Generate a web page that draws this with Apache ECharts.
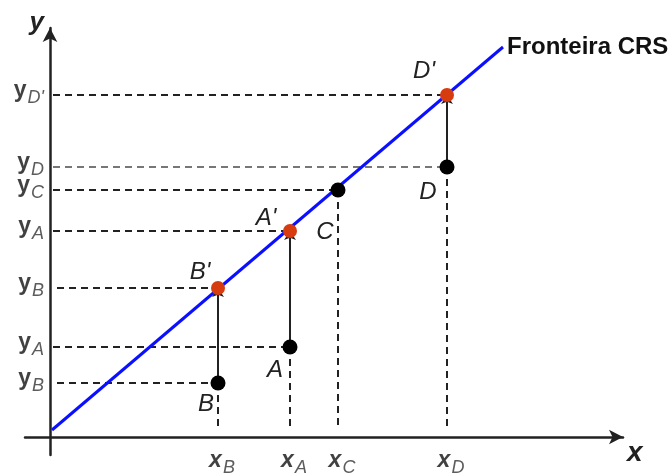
<!DOCTYPE html>
<html>
<head>
<meta charset="utf-8">
<script src="https://cdn.jsdelivr.net/npm/echarts@6/dist/echarts.min.js"></script>
<style>html,body{margin:0;padding:0;background:#fff}#chart{width:668px;height:475px}</style>
</head>
<body>
<div id="chart"></div>
<script>
// observed DMUs (input x, output y)
const dmuNames = ['B', 'A', 'C', 'D'];
const dmuX = [16.8, 24.0, 28.8, 39.7];
const dmuY = [5.4, 9.0, 24.7, 27.0];
// projections on the CRS frontier
const targetNames = ["B'", "A'", "D'"];
const targetOf = [0, 1, 3];
const targetY = [14.9, 20.6, 34.2];
// frontier end points
const frontierX = [0.2, 45.3];
const frontierY = [0.7, 39.0];
const frontierName = 'Fronteira CRS';
// axis tick labels (subscripts)
const xTickNames = ['B', 'A', 'C', 'D'];
const yTickNames = ["D'", 'D', 'C', 'A', 'B', 'A', 'B'];

const targetX = targetOf.map(i => dmuX[i]);
// y ticks: [x where the guide ends, y]
const yTickRows = [
  [targetX[2], targetY[2]],
  [dmuX[3], dmuY[3]],
  [dmuX[2], dmuY[2]],
  [targetX[1], targetY[1]],
  [targetX[0], targetY[0]],
  [dmuX[1], dmuY[1]],
  [dmuX[0], dmuY[0]]
];
const guideStart = [0.3, 0.3, 0.3, 0.3, 0.7, 0.3, 0.7];

const dmuOffsets = [[-12, 21], [-15, 23], [-13, 42], [-19, 25]];
const targetOffsets = [[-18, -16], [-24, -13], [-23, -24]];
const ink = '#222';
const labelFont = 'Liberation Sans, Arial, sans-serif';

const chart = echarts.init(document.getElementById('chart'));

const hGuides = yTickRows.map((r, i) => ({
  coords: [[guideStart[i], r[1]], [r[0], r[1]]],
  lineStyle: { color: i === 1 ? '#777' : ink }
}));
const vGuides = dmuNames.map((n, i) => ({ coords: [[dmuX[i], dmuY[i]], [dmuX[i], 0.7]] }));
const arrows = targetOf.map((d, i) => ({ coords: [[dmuX[d], dmuY[d]], [targetX[i], targetY[i]]] }));

chart.setOption({
  animation: false,
  grid: { left: 25, right: 45, top: 28, bottom: 20 },
  xAxis: {
    type: 'value', min: -2.5, max: 57.3,
    name: 'x', nameLocation: 'end', nameGap: 4,
    nameTextStyle: { fontFamily: labelFont, fontSize: 28, fontWeight: 'bold', fontStyle: 'italic', color: ink, verticalAlign: 'top', padding: [2, 0, 0, 0] },
    axisLine: { onZero: true, symbol: ['none', 'arrow'], symbolSize: [11, 14], lineStyle: { color: ink, width: 2.5 } },
    axisTick: { show: false }, axisLabel: { show: false }, splitLine: { show: false }
  },
  yAxis: {
    type: 'value', min: -1.8, max: 40.9,
    name: 'y', nameLocation: 'end', nameGap: 4,
    nameTextStyle: { fontFamily: labelFont, fontSize: 26, fontWeight: 'bold', fontStyle: 'italic', color: ink, align: 'right', verticalAlign: 'bottom', padding: [0, 6, -12, 0] },
    axisLine: { onZero: true, symbol: ['none', 'arrow'], symbolSize: [11, 14], lineStyle: { color: ink, width: 2.5 } },
    axisTick: { show: false }, axisLabel: { show: false }, splitLine: { show: false }
  },
  series: [
    {
      type: 'lines', coordinateSystem: 'cartesian2d', silent: true, z: 2,
      lineStyle: { color: ink, width: 2, type: [7, 5], opacity: 1 },
      data: hGuides.concat(vGuides)
    },
    {
      type: 'line', silent: true, z: 3,
      data: frontierX.map((x, i) => [x, frontierY[i]]),
      symbol: 'none',
      lineStyle: { color: '#0a10ff', width: 3 },
      endLabel: {
        show: true, formatter: frontierName, distance: 4,
        fontFamily: labelFont, fontSize: 24, fontWeight: 'bold', color: '#111'
      }
    },
    {
      type: 'lines', coordinateSystem: 'cartesian2d', silent: true, z: 4,
      symbol: ['none', 'arrow'], symbolSize: 9,
      lineStyle: { color: ink, width: 2, opacity: 1 },
      data: arrows
    },
    {
      type: 'scatter', silent: true, z: 5,
      symbolSize: 15, itemStyle: { color: '#000', opacity: 1 },
      label: { show: true, position: 'inside', fontFamily: labelFont, fontSize: 24, fontStyle: 'italic', color: ink },
      data: dmuNames.map((n, i) => ({
        value: [dmuX[i], dmuY[i]],
        label: { formatter: n, offset: dmuOffsets[i] }
      }))
    },
    {
      type: 'scatter', silent: true, z: 6,
      symbolSize: 14, itemStyle: { color: '#d63c10', opacity: 1 },
      label: { show: true, position: 'inside', fontFamily: labelFont, fontSize: 24, fontStyle: 'italic', color: ink },
      data: targetNames.map((n, i) => ({
        value: [targetX[i], targetY[i]],
        label: { formatter: n, offset: targetOffsets[i] }
      }))
    },
    {
      type: 'scatter', silent: true, z: 6, symbolSize: 0,
      label: {
        show: true, position: 'left', distance: 6, offset: [0, -4],
        formatter: p => '{m|y}{s|' + p.data.name + '}',
        rich: {
          m: { fontFamily: labelFont, fontSize: 23, fontWeight: 'bold', color: '#111' },
          s: { fontFamily: labelFont, fontSize: 18, fontStyle: 'italic', color: '#333', padding: [14, 0, 0, 1] }
        }
      },
      data: yTickRows.map((r, i) => ({ name: yTickNames[i], value: [0, r[1]] }))
    },
    {
      type: 'scatter', silent: true, z: 6, symbolSize: 0,
      label: {
        show: true, position: 'bottom', distance: 8, offset: [4, 0],
        formatter: p => '{m|x}{s|' + p.data.name + '}',
        rich: {
          m: { fontFamily: labelFont, fontSize: 23, fontWeight: 'bold', fontStyle: 'italic', color: '#111' },
          s: { fontFamily: labelFont, fontSize: 18, fontStyle: 'italic', color: '#333', padding: [14, 0, 0, 1] }
        }
      },
      data: dmuX.map((x, i) => ({ name: xTickNames[i], value: [x, 0] }))
    }
  ]
});
</script>
</body>
</html>
